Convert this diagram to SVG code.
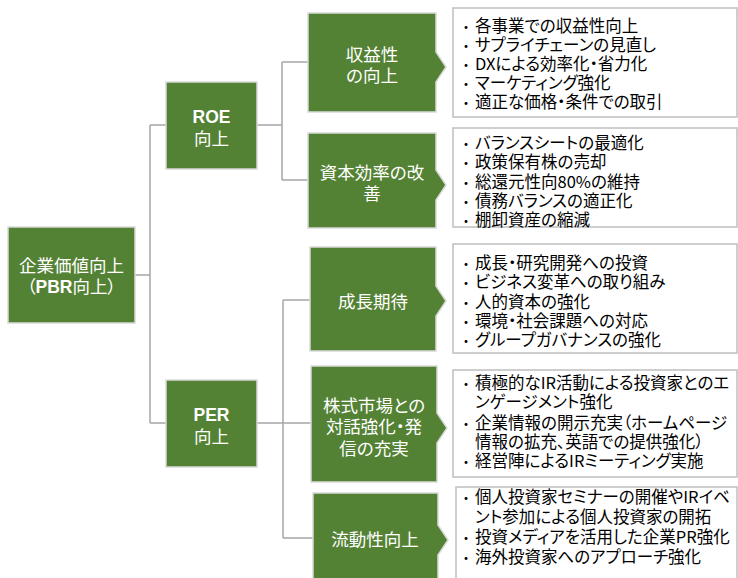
<svg xmlns="http://www.w3.org/2000/svg" width="738" height="578" viewBox="0 0 738 578">
<style>
.g{fill:#548235;stroke:#d9d9d9;stroke-width:1.5}
.lb{fill:#ffffff;stroke:#bfbfbf;stroke-width:1.5}
.c{fill:none;stroke:#a6a6a6;stroke-width:1.5}
.w{fill:#ffffff;font-family:"Noto Sans CJK JP","Noto Sans",sans-serif;font-size:17.5px;text-anchor:middle;font-feature-settings:"palt"}
.b{font-weight:bold;font-family:"Liberation Sans","Noto Sans CJK JP",sans-serif}
.t{fill:#000000;font-family:"Noto Sans CJK JP","Noto Sans",sans-serif;font-size:16.5px;font-feature-settings:"palt"}
.d{fill:#000000;font-family:"Noto Sans CJK JP",sans-serif;font-size:14px}
</style>
<g id="connectors">
<path class="c" d="M135 275 H150 M150 125 V423 M150 125 H166 M150 423 H166"/>
<path class="c" d="M257 125 H282 M282 62 V180 M282 62 H308 M282 180 H308"/>
<path class="c" d="M257 423 H311 M283 300 V538 M283 300 H310 M283 538 H313"/>
</g>
<g id="n-root">
<rect class="g" x="8" y="227" width="127" height="96"/>
<text class="w" x="71.5" y="272">企業価値向上</text>
<text class="w" x="71.5" y="293">（<tspan class="b">PBR</tspan>向上）</text>
</g>
<g id="n-roe">
<rect class="g" x="166" y="82" width="91" height="87"/>
<text class="w" x="211.5" y="123"><tspan class="b">ROE</tspan></text>
<text class="w" x="211.5" y="145">向上</text>
</g>
<g id="n-per">
<rect class="g" x="166" y="380" width="91" height="87"/>
<text class="w" x="211.5" y="421"><tspan class="b">PER</tspan></text>
<text class="w" x="211.5" y="443">向上</text>
</g>
<g id="n-profit">
<path class="g" d="M308 13 H436 V52 L446 67 L436 82 V112 H308 Z"/>
<text class="w" x="372" y="61">収益性</text>
<text class="w" x="372" y="82">の向上</text>
</g>
<g id="n-capital">
<path class="g" d="M308 133 H436 V170 L446 185 L436 200 V228 H308 Z"/>
<text class="w" x="372" y="179">資本効率の改</text>
<text class="w" x="372" y="200">善</text>
</g>
<g id="n-growth">
<path class="g" d="M310 247 H436 V286 L446 301 L436 316 V351 H310 Z"/>
<text class="w" x="373" y="308">成長期待</text>
</g>
<g id="n-dialog">
<path class="g" d="M311 366 H437 V413 L447 428 L437 443 V482 H311 Z"/>
<text class="w" x="374" y="412">株式市場との</text>
<text class="w" x="374" y="433">対話強化・発</text>
<text class="w" x="374" y="455">信の充実</text>
</g>
<g id="n-liquidity">
<path class="g" d="M313 493 H438 V525 L448 540 L438 555 V590 H313 Z"/>
<text class="w" x="375" y="546">流動性向上</text>
</g>
<g id="list-profit">
<rect class="lb" x="453" y="8" width="284" height="109"/>
<text class="d" x="459" y="32">・</text><text class="t" x="475" y="32">各事業での収益性向上</text>
<text class="d" x="459" y="51">・</text><text class="t" x="475" y="51">サプライチェーンの見直し</text>
<text class="d" x="459" y="70">・</text><text class="t" x="475" y="70">DXによる効率化・省力化</text>
<text class="d" x="459" y="89">・</text><text class="t" x="475" y="89">マーケティング強化</text>
<text class="d" x="459" y="108">・</text><text class="t" x="475" y="108">適正な価格・条件での取引</text>
</g>
<g id="list-capital">
<rect class="lb" x="453" y="128" width="284" height="99"/>
<text class="d" x="459" y="149">・</text><text class="t" x="475" y="149">バランスシートの最適化</text>
<text class="d" x="459" y="168">・</text><text class="t" x="475" y="168">政策保有株の売却</text>
<text class="d" x="459" y="188">・</text><text class="t" x="475" y="188">総還元性向80%の維持</text>
<text class="d" x="459" y="207">・</text><text class="t" x="475" y="207">債務バランスの適正化</text>
<text class="d" x="459" y="226">・</text><text class="t" x="475" y="226">棚卸資産の縮減</text>
</g>
<g id="list-growth">
<rect class="lb" x="453" y="244" width="284" height="109"/>
<text class="d" x="459" y="269">・</text><text class="t" x="475" y="269">成長・研究開発への投資</text>
<text class="d" x="459" y="288">・</text><text class="t" x="475" y="288">ビジネス変革への取り組み</text>
<text class="d" x="459" y="308">・</text><text class="t" x="475" y="308">人的資本の強化</text>
<text class="d" x="459" y="327">・</text><text class="t" x="475" y="327">環境・社会課題への対応</text>
<text class="d" x="459" y="346">・</text><text class="t" x="475" y="346">グループガバナンスの強化</text>
</g>
<g id="list-dialog">
<rect class="lb" x="453" y="370" width="284" height="107"/>
<text class="d" x="459" y="389">・</text><text class="t" x="475" y="389">積極的なIR活動による投資家とのエ</text>
<text class="t" x="475" y="408">ンゲージメント強化</text>
<text class="d" x="459" y="429">・</text><text class="t" x="475" y="429">企業情報の開示充実（ホームページ</text>
<text class="t" x="475" y="448">情報の拡充、英語での提供強化）</text>
<text class="d" x="459" y="467">・</text><text class="t" x="475" y="467">経営陣によるIRミーティング実施</text>
</g>
<g id="list-liquidity">
<rect class="lb" x="456" y="487" width="281" height="100"/>
<text class="d" x="459" y="503">・</text><text class="t" x="475" y="503">個人投資家セミナーの開催やIRイベ</text>
<text class="t" x="475" y="523">ント参加による個人投資家の開拓</text>
<text class="d" x="459" y="543">・</text><text class="t" x="475" y="543">投資メディアを活用した企業PR強化</text>
<text class="d" x="459" y="563">・</text><text class="t" x="475" y="563">海外投資家へのアプローチ強化</text>
</g>
</svg>
